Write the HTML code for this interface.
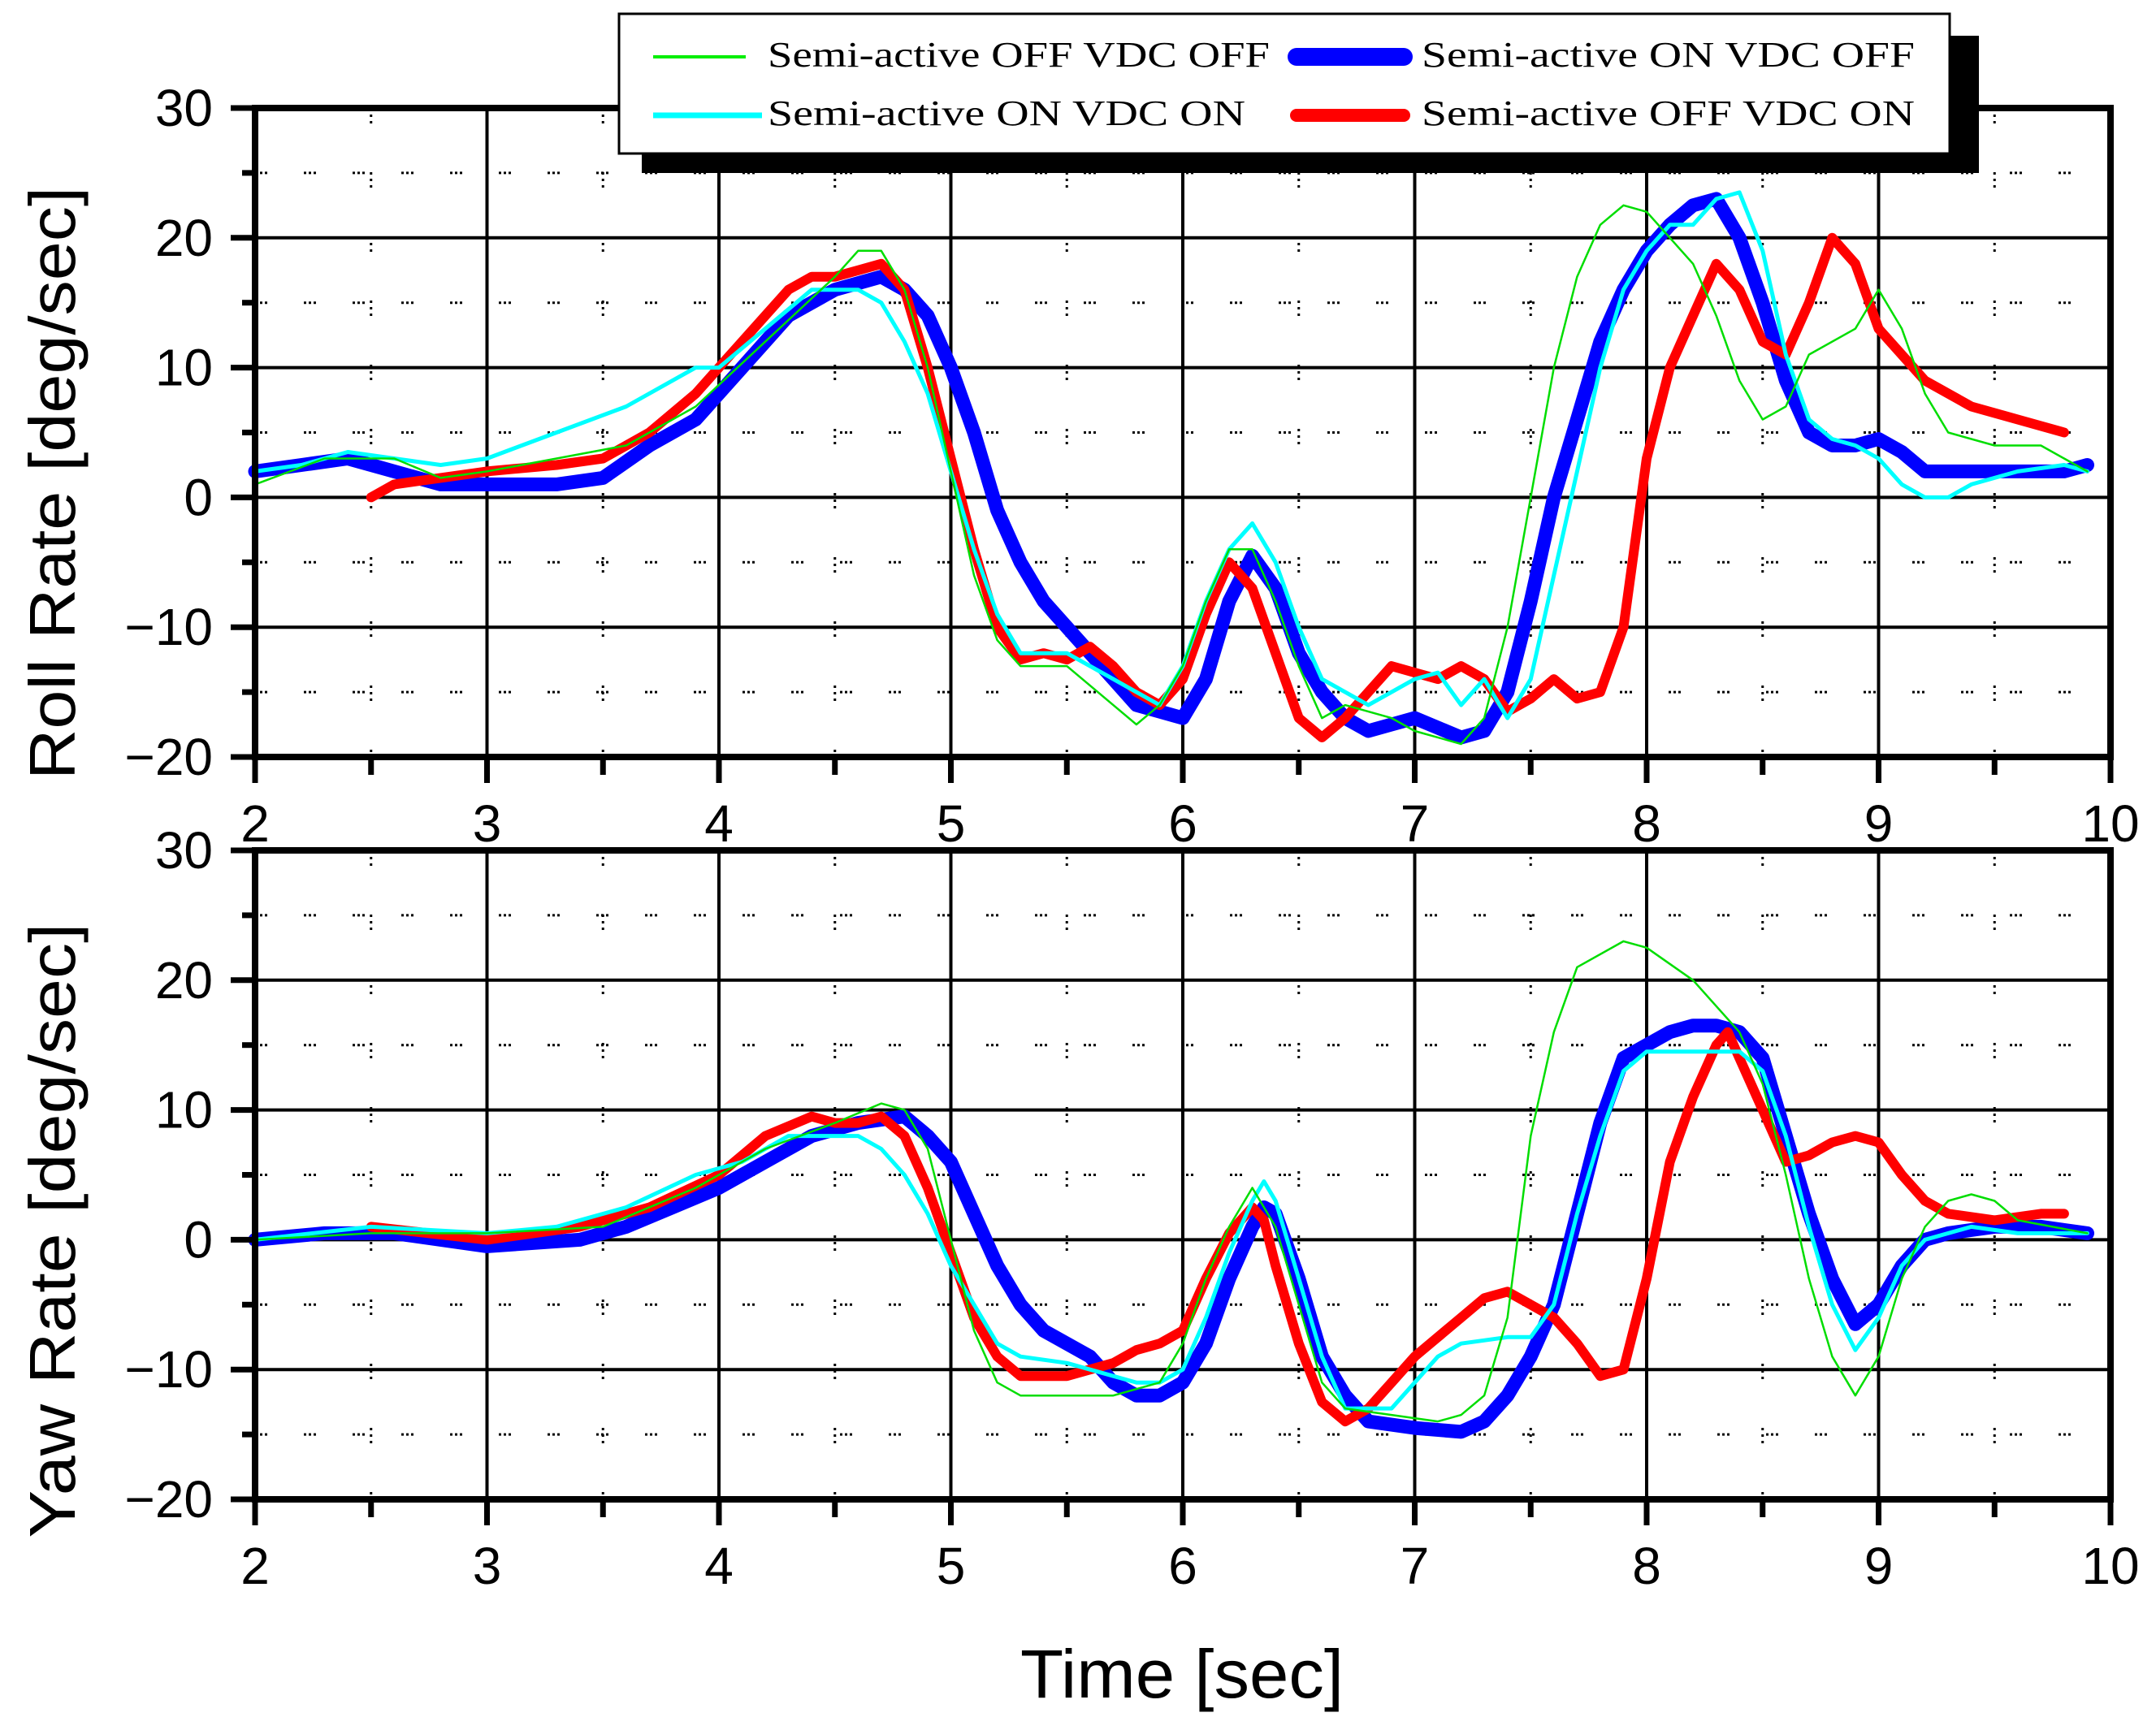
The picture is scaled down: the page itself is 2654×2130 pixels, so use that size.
<!DOCTYPE html>
<html><head><meta charset="utf-8"><style>
html,body{margin:0;padding:0;background:#fff}
svg{display:block}
text{font-family:"Liberation Sans",sans-serif}
</style></head><body>
<svg id="chart" width="2654" height="2130" viewBox="0 0 2654 2130" xmlns="http://www.w3.org/2000/svg">
<g id="g-grid"></g>
<g id="g-series"></g>
<g id="g-axes"></g>
<g id="g-labels"></g>
<text transform="translate(92,595) rotate(-90)" text-anchor="middle" font-size="80" textLength="730" lengthAdjust="spacingAndGlyphs">Roll Rate [deg/sec]</text>
<text transform="translate(92,1515) rotate(-90)" text-anchor="middle" font-size="80" textLength="757" lengthAdjust="spacingAndGlyphs">Yaw Rate [deg/sec]</text>
<text x="1455" y="2090" text-anchor="middle" font-size="84" textLength="398" lengthAdjust="spacingAndGlyphs">Time [sec]</text>
<g>
<rect x="790" y="44" width="1646" height="169" fill="#000"/>
<rect x="762" y="17" width="1638" height="172" fill="#fff" stroke="#000" stroke-width="3"/>
<g><line x1="804" y1="70" x2="918" y2="70" stroke="#00ee00" stroke-width="4"/><text x="945" y="82" font-size="44" textLength="618" lengthAdjust="spacingAndGlyphs" style="font-family:'Liberation Serif',serif">Semi-active OFF VDC OFF</text></g>
<g><line x1="1596" y1="70" x2="1728" y2="70" stroke="#0000ff" stroke-width="22" stroke-linecap="round"/><text x="1750" y="82" font-size="44" textLength="607" lengthAdjust="spacingAndGlyphs" style="font-family:'Liberation Serif',serif">Semi-active ON VDC OFF</text></g>
<g><line x1="804" y1="142" x2="938" y2="142" stroke="#00ffff" stroke-width="7"/><text x="945" y="154" font-size="44" textLength="588" lengthAdjust="spacingAndGlyphs" style="font-family:'Liberation Serif',serif">Semi-active ON VDC ON</text></g>
<g><line x1="1596" y1="142" x2="1728" y2="142" stroke="#ff0000" stroke-width="16" stroke-linecap="round"/><text x="1750" y="154" font-size="44" textLength="607" lengthAdjust="spacingAndGlyphs" style="font-family:'Liberation Serif',serif">Semi-active OFF VDC ON</text></g>
</g>
</svg>
<script>
const xTicks=[2,3,4,5,6,7,8,9,10];
const yTicks=[30,20,10,0,-10,-20];
const yTickLabels=["30","20","10","0","\u221210","\u221220"];
// Roll rate series [time, value]
const rollGreen=[[2,1],[2.3,3],[2.6,3],[2.8,1.5],[3,2],[3.3,3],[3.6,4],[3.9,7],[4.2,12],[4.5,17],[4.6,19],[4.7,19],[4.8,16],[4.9,10],[5,2],[5.1,-6],[5.2,-11],[5.3,-13],[5.5,-13],[5.7,-16],[5.8,-17.5],[5.9,-16],[6,-13],[6.1,-8],[6.2,-4],[6.3,-4],[6.4,-8],[6.5,-13],[6.6,-17],[6.7,-16],[6.9,-17],[7,-18],[7.2,-19],[7.3,-17],[7.4,-10],[7.5,0],[7.6,10],[7.7,17],[7.8,21],[7.9,22.5],[8,22],[8.1,20],[8.2,18],[8.3,14],[8.4,9],[8.5,6],[8.6,7],[8.7,11],[8.9,13],[9,16],[9.1,13],[9.2,8],[9.3,5],[9.5,4],[9.7,4],[9.8,3],[9.9,2]];
const rollBlue=[[2,2],[2.2,2.5],[2.4,3],[2.6,2],[2.8,1],[3,1],[3.3,1],[3.5,1.5],[3.7,4],[3.9,6],[4.1,10],[4.3,14],[4.5,16],[4.7,17],[4.8,16],[4.9,14],[5,10],[5.1,5],[5.2,-1],[5.3,-5],[5.4,-8],[5.5,-10],[5.6,-12],[5.7,-14],[5.8,-16],[5.9,-16.5],[6,-17],[6.1,-14],[6.2,-8],[6.3,-4.5],[6.4,-7],[6.5,-12],[6.6,-15],[6.7,-17],[6.8,-18],[6.9,-17.5],[7,-17],[7.2,-18.5],[7.3,-18],[7.4,-15],[7.5,-8],[7.6,0],[7.7,6],[7.8,12],[7.9,16],[8,19],[8.1,21],[8.2,22.5],[8.3,23],[8.4,20],[8.5,15],[8.6,9],[8.7,5],[8.8,4],[8.9,4],[9,4.5],[9.1,3.5],[9.2,2],[9.4,2],[9.6,2],[9.8,2],[9.9,2.5]];
const rollCyan=[[2,2],[2.2,2.5],[2.4,3.5],[2.6,3],[2.8,2.5],[3,3],[3.3,5],[3.6,7],[3.9,10],[4,10],[4.2,13],[4.4,16],[4.5,16],[4.6,16],[4.7,15],[4.8,12],[4.9,8],[5,2],[5.1,-4],[5.2,-9],[5.3,-12],[5.4,-12],[5.5,-12],[5.6,-13],[5.7,-14],[5.8,-15],[5.9,-16],[6,-13],[6.1,-8],[6.2,-4],[6.3,-2],[6.4,-5],[6.5,-10],[6.6,-14],[6.7,-15],[6.8,-16],[6.9,-15],[7,-14],[7.1,-13.5],[7.2,-16],[7.3,-14],[7.4,-17],[7.5,-14],[7.6,-6],[7.7,2],[7.8,10],[7.9,16],[8,19],[8.1,21],[8.2,21],[8.3,23],[8.4,23.5],[8.5,19],[8.6,11],[8.7,6],[8.8,4.5],[8.9,4],[9,3],[9.1,1],[9.2,0],[9.3,0],[9.4,1],[9.6,2],[9.8,2.5],[9.9,2]];
const rollRed=[[2.5,0],[2.6,1],[2.8,1.5],[3,2],[3.3,2.5],[3.5,3],[3.7,5],[3.9,8],[4.1,12],[4.3,16],[4.4,17],[4.5,17],[4.6,17.5],[4.7,18],[4.8,16],[4.9,10],[5,3],[5.1,-4],[5.2,-10],[5.3,-12.5],[5.4,-12],[5.5,-12.5],[5.6,-11.5],[5.7,-13],[5.8,-15],[5.9,-16],[6,-14],[6.1,-9],[6.2,-5],[6.3,-7],[6.4,-12],[6.5,-17],[6.6,-18.5],[6.7,-17],[6.8,-15],[6.9,-13],[7,-13.5],[7.1,-14],[7.2,-13],[7.3,-14],[7.4,-16.5],[7.5,-15.5],[7.6,-14],[7.7,-15.5],[7.8,-15],[7.9,-10],[8,3],[8.1,10],[8.2,14],[8.3,18],[8.4,16],[8.5,12],[8.6,11],[8.7,15],[8.8,20],[8.9,18],[9,13],[9.2,9],[9.4,7],[9.6,6],[9.8,5]];
// Yaw rate series
const yawGreen=[[2,0],[2.5,0.5],[3,0.5],[3.5,1],[3.9,4],[4.2,7],[4.5,9],[4.7,10.5],[4.8,10],[4.9,7],[5,0],[5.1,-7],[5.2,-11],[5.3,-12],[5.5,-12],[5.7,-12],[5.8,-11.5],[5.9,-11],[6,-8],[6.1,-3],[6.2,1],[6.3,4],[6.4,1],[6.5,-5],[6.6,-11],[6.7,-13],[6.9,-13.5],[7.1,-14],[7.2,-13.5],[7.3,-12],[7.4,-6],[7.5,8],[7.6,16],[7.7,21],[7.9,23],[8,22.5],[8.2,20],[8.4,16],[8.5,12],[8.6,5],[8.7,-3],[8.8,-9],[8.9,-12],[9,-9],[9.1,-3],[9.2,1],[9.3,3],[9.4,3.5],[9.5,3],[9.6,1.5],[9.9,0.5]];
const yawBlue=[[2,0],[2.3,0.5],[2.6,0.5],[3,-0.5],[3.4,0],[3.6,1],[3.8,2.5],[4,4],[4.2,6],[4.4,8],[4.6,9],[4.8,9.5],[4.9,8],[5,6],[5.1,2],[5.2,-2],[5.3,-5],[5.4,-7],[5.6,-9],[5.7,-11],[5.8,-12],[5.9,-12],[6,-11],[6.1,-8],[6.2,-3],[6.3,1],[6.35,2.5],[6.4,2],[6.5,-3],[6.6,-9],[6.7,-12],[6.8,-14],[7,-14.5],[7.2,-14.8],[7.3,-14],[7.4,-12],[7.5,-9],[7.6,-5],[7.7,2],[7.8,9],[7.9,14],[8,15],[8.1,16],[8.2,16.5],[8.3,16.5],[8.4,16],[8.5,14],[8.6,8],[8.7,2],[8.8,-3],[8.9,-6.5],[9,-5],[9.1,-2],[9.2,0],[9.3,0.5],[9.5,1],[9.7,1],[9.9,0.5]];
const yawCyan=[[2,0],[2.5,1],[3,0.5],[3.3,1],[3.6,2.5],[3.9,5],[4.1,6],[4.3,8],[4.6,8],[4.7,7],[4.8,5],[4.9,2],[5,-2],[5.1,-5],[5.2,-8],[5.3,-9],[5.5,-9.5],[5.6,-10],[5.8,-11],[5.9,-11],[6,-10],[6.1,-6],[6.2,-1],[6.3,3],[6.35,4.5],[6.4,3],[6.5,-3],[6.6,-9],[6.7,-13],[6.9,-13],[7,-11],[7.1,-9],[7.2,-8],[7.4,-7.5],[7.5,-7.5],[7.6,-5],[7.7,2],[7.8,8],[7.9,13],[8,14.5],[8.4,14.5],[8.5,13],[8.6,8],[8.7,1],[8.8,-5],[8.9,-8.5],[9,-6],[9.1,-2],[9.2,0],[9.4,1],[9.6,0.5],[9.9,0.5]];
const yawRed=[[2.5,1],[3,0],[3.4,1],[3.7,2.5],[4,5],[4.2,8],[4.4,9.5],[4.5,9],[4.6,9],[4.7,9.5],[4.8,8],[4.9,4],[5,-1],[5.1,-6],[5.2,-9],[5.3,-10.5],[5.5,-10.5],[5.6,-10],[5.7,-9.5],[5.8,-8.5],[5.9,-8],[6,-7],[6.1,-3],[6.2,0.5],[6.3,2.5],[6.35,1.5],[6.4,-2],[6.5,-8],[6.6,-12.5],[6.7,-14],[6.8,-13],[6.9,-11],[7,-9],[7.2,-6],[7.3,-4.5],[7.4,-4],[7.5,-5],[7.6,-6],[7.7,-8],[7.8,-10.5],[7.9,-10],[8,-3],[8.1,6],[8.2,11],[8.3,15],[8.35,16],[8.4,14],[8.5,10],[8.6,6],[8.7,6.5],[8.8,7.5],[8.9,8],[9,7.5],[9.1,5],[9.2,3],[9.3,2],[9.5,1.5],[9.7,2],[9.8,2]];

const NS="http://www.w3.org/2000/svg";
const L=314,R=2598;
const panels=[{name:"roll",top:133,bot:932,data:[rollBlue,rollRed,rollCyan,rollGreen]},{name:"yaw",top:1047,bot:1846,data:[yawBlue,yawRed,yawCyan,yawGreen]}];
const styles=[{c:"#0000ff",w:17,n:"on-off"},{c:"#ff0000",w:12,n:"off-on"},{c:"#00ffff",w:5,n:"on-on"},{c:"#00dd00",w:2.5,n:"off-off"}];
function xs(v){return L+(v-2)/8*(R-L);}
function mk(tag,attrs,parent){const e=document.createElementNS(NS,tag);for(const k in attrs)e.setAttribute(k,attrs[k]);parent.appendChild(e);return e;}
const gG=document.getElementById('g-grid'),gS=document.getElementById('g-series'),gA=document.getElementById('g-axes'),gL=document.getElementById('g-labels');
panels.forEach(p=>{
  const ys=v=>p.top+(30-v)/50*(p.bot-p.top);
  for(let v=2.5;v<10;v+=1){const e=mk('line',{x1:xs(v),x2:xs(v),y1:p.top,y2:p.bot,stroke:'#000','stroke-width':3,'stroke-dasharray':'3 5 3 5 3 60'},gG);
    
    }
  for(let v=25;v>-20;v-=10){const e=mk('line',{x1:L,x2:R,y1:ys(v),y2:ys(v),stroke:'#000','stroke-width':3,'stroke-dasharray':'3 3 3 3 3 45'},gG);
    
    }
  xTicks.forEach(v=>{const e=mk('line',{x1:xs(v),x2:xs(v),y1:p.top,y2:p.bot,stroke:'#000','stroke-width':4},gG);
    
    });
  yTicks.forEach(v=>{const e=mk('line',{x1:L,x2:R,y1:ys(v),y2:ys(v),stroke:'#000','stroke-width':4},gG);
    
    });
  p.data.forEach((d,i)=>{const s=styles[i];
    const pts=d.map(q=>xs(q[0]).toFixed(1)+','+ys(q[1]).toFixed(1)).join(' ');
    const e=mk('polyline',{points:pts,fill:'none',stroke:s.c,'stroke-width':s.w,'stroke-linejoin':'round','stroke-linecap':'round'},gS);
    
    });
  const f=mk('rect',{x:L,y:p.top,width:R-L,height:p.bot-p.top,fill:'none',stroke:'#000','stroke-width':8},gA);
  
  
  yTicks.forEach((v,i)=>{
    const t=mk('line',{x1:L-30,x2:L,y1:ys(v),y2:ys(v),stroke:'#000','stroke-width':7},gA);
    
    
    if(v>-20){const m=mk('line',{x1:L-16,x2:L,y1:ys(v-5),y2:ys(v-5),stroke:'#000','stroke-width':7},gA);
      
      }
    const tx=mk('text',{x:262,y:ys(v)+22,'text-anchor':'end','font-size':64},gL);
    tx.textContent=yTickLabels[i];
    
    
  });
  xTicks.forEach((v,i)=>{
    const t=mk('line',{x1:xs(v),x2:xs(v),y1:p.bot,y2:p.bot+32,stroke:'#000','stroke-width':7},gA);
    
    
    if(v<10){const m=mk('line',{x1:xs(v+0.5),x2:xs(v+0.5),y1:p.bot,y2:p.bot+22,stroke:'#000','stroke-width':7},gA);
      
      }
    const tx=mk('text',{x:xs(v),y:p.bot+104,'text-anchor':'middle','font-size':64},gL);
    tx.textContent=String(v);
    
    
  });
});
</script>
</body></html>
